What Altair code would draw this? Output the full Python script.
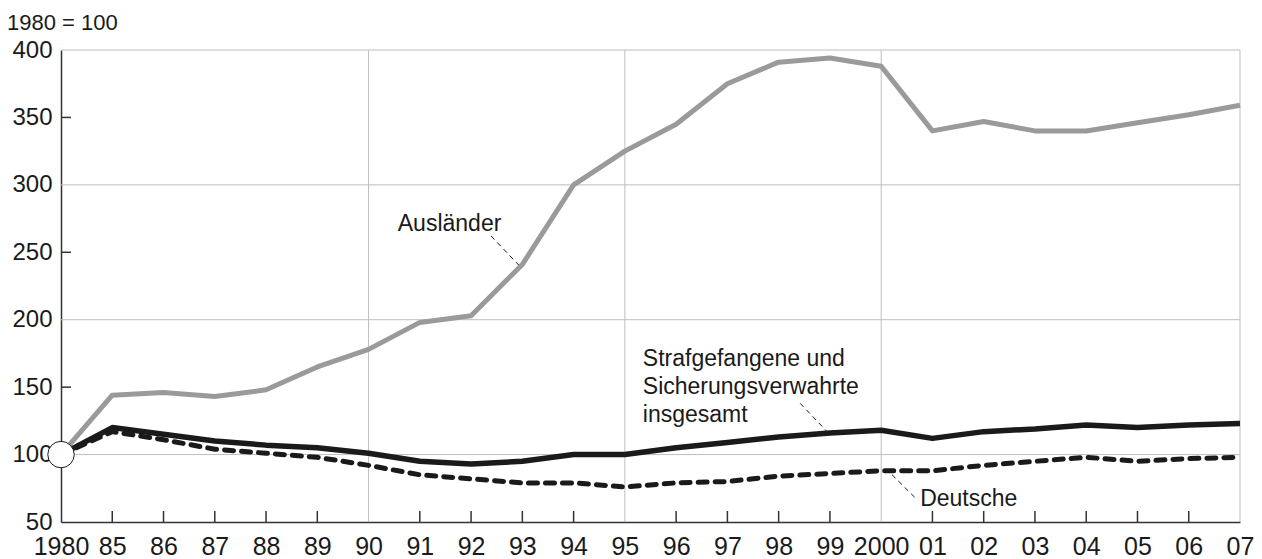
import altair as alt
import pandas as pd

# ---- data ----
years = ["1980", "85", "86", "87", "88", "89", "90", "91", "92", "93", "94", "95",
         "96", "97", "98", "99", "2000", "01", "02", "03", "04", "05", "06", "07"]
auslaender = [100, 144, 146, 143, 148, 165, 178, 198, 203, 241, 300, 325,
              345, 375, 391, 394, 388, 340, 347, 340, 340, 346, 352, 359]
insgesamt = [100, 120, 115, 110, 107, 105, 101, 95, 93, 95, 100, 100,
             105, 109, 113, 116, 118, 112, 117, 119, 122, 120, 122, 123]
deutsche = [100, 117, 111, 104, 101, 98, 92, 85, 82, 79, 79, 76,
            79, 80, 84, 86, 88, 88, 92, 95, 98, 95, 97, 98]

grid_y = [100, 200, 300, 400]
grid_x = [6, 11, 16, 23]
ytick_vals = [150, 250, 350]
y_labels = [50, 100, 150, 200, 250, 300, 350, 400]

ann_text = ["Ausländer", "Strafgefangene und", "Sicherungsverwahrte", "insgesamt", "Deutsche"]
ann_i = [6.57, 11.35, 11.35, 11.35, 16.76]
ann_v = [265.8, 165.4, 144.6, 124.5, 62.1]

lead_i = [8.39, 14.42, 16.21]
lead_v = [262.1, 138.0, 85.1]
lead_i2 = [8.93, 14.94, 16.70]
lead_v2 = [240.5, 117.2, 66.6]

unit_note = "1980 = 100"

# ---- tables ----
idx = list(range(len(years)))
df_a = pd.DataFrame({"i": idx, "v": auslaender})
df_g = pd.DataFrame({"i": idx, "v": insgesamt})
df_d = pd.DataFrame({"i": idx, "v": deutsche})
df_origin = pd.DataFrame({"i": [0], "v": [auslaender[0]]})
df_gy = pd.DataFrame({"v": grid_y})
df_gx = pd.DataFrame({"i": grid_x})
df_yt = pd.DataFrame({"v": ytick_vals})
df_xt = pd.DataFrame({"i": [k for k in idx if k not in grid_x and k != 0]})
df_ann = pd.DataFrame({"i": ann_i, "v": ann_v, "t": ann_text})
df_lead = pd.DataFrame({"i": lead_i, "v": lead_v, "i2": lead_i2, "v2": lead_v2})
df_note = pd.DataFrame({"t": [unit_note]})

W, H = 1179, 472
xs = alt.Scale(domain=[0, 23], nice=False, zero=False)
ys = alt.Scale(domain=[50, 400], nice=False, zero=False)

label_expr = "[" + ",".join("'%s'" % y for y in years) + "][datum.value]"

X_AX = alt.Axis(values=idx, labelExpr=label_expr, title=None, ticks=False, grid=False,
                labelFontSize=25, labelFont="Liberation Sans",
                labelPadding=12, labelFlush=False, labelOverlap=False,
                domainColor="#333333", domainWidth=1.5, labelColor="#1a1a1a")
Y_AX = alt.Axis(values=y_labels, title=None, ticks=False, grid=False,
                labelFontSize=24, labelFont="Liberation Sans", labelPadding=9,
                labelFlush=False, labelOverlap=False, labelOffset=0,
                domainColor="#333333", domainWidth=1.5, labelColor="#1a1a1a")


def X(field="i"):
    return alt.X(field + ":Q", scale=xs, axis=X_AX)


def Y(field="v"):
    return alt.Y(field + ":Q", scale=ys, axis=Y_AX)


GRID = "#bdbdbd"

hgrid = alt.Chart(df_gy).mark_rule(color=GRID, strokeWidth=1).encode(y=Y())
vgrid = alt.Chart(df_gx).mark_rule(color=GRID, strokeWidth=1).encode(x=X())
yticks = alt.Chart(df_yt).mark_rule(color="#333333", strokeWidth=1.5).encode(
    y=Y(), x=alt.value(0), x2=alt.value(10))
xticks = alt.Chart(df_xt).mark_rule(color="#333333", strokeWidth=1.5).encode(
    x=X(), y=alt.value(H), y2=alt.value(H - 11))

line_a = alt.Chart(df_a).mark_line(color="#9a9a9c", strokeWidth=5, strokeJoin="round").encode(
    x=X(), y=Y())
line_g = alt.Chart(df_g).mark_line(color="#1a1a1a", strokeWidth=5.5, strokeJoin="round").encode(
    x=X(), y=Y())
line_d = alt.Chart(df_d).mark_line(color="#1a1a1a", strokeWidth=5, strokeDash=[9, 8],
                                   strokeCap="round", strokeJoin="round").encode(
    x=X(), y=Y())

origin = alt.Chart(df_origin).mark_point(shape="circle", size=700, filled=True, fill="white",
                                         stroke="#1a1a1a", strokeWidth=1, opacity=1).encode(
    x=X(), y=Y())

leaders = alt.Chart(df_lead).mark_rule(color="#1a1a1a", strokeWidth=1, strokeDash=[5, 4]).encode(
    x=X(), y=Y(), x2="i2:Q", y2="v2:Q")

ann = alt.Chart(df_ann).mark_text(align="left", baseline="alphabetic", fontSize=23,
                                  font="Liberation Sans", color="#1a1a1a").encode(
    x=X(), y=Y(), text="t:N")

note = alt.Chart(df_note).mark_text(align="left", baseline="alphabetic", fontSize=22,
                                    font="Liberation Sans", color="#1a1a1a").encode(
    x=alt.value(-54), y=alt.value(-20.5), text="t:N")

chart = alt.layer(hgrid, vgrid, yticks, xticks, line_a, line_g, line_d, origin, leaders, ann,
                  note).properties(
    width=W, height=H,
    autosize=alt.AutoSizeParams(type="none"),
    padding={"left": 53, "top": 42, "right": 14, "bottom": 37},
).configure_view(stroke=None)

chart.save("out.html", embed_options={"renderer": "svg", "actions": False})
